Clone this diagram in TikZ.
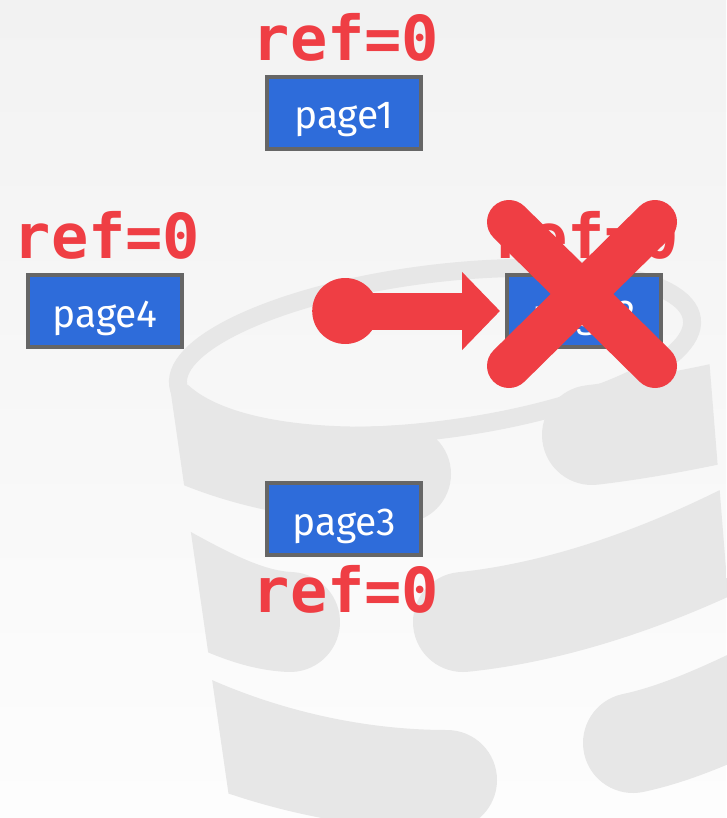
\documentclass[tikz,border=0pt]{standalone}
\usepackage{fontspec}
\setmainfont{Fira Sans}
\setmonofont{DejaVu Sans Mono}
\usetikzlibrary{positioning, arrows.meta, calc}
\definecolor{pgblue}{HTML}{2E6CDA}
\definecolor{pgedge}{HTML}{666666}
\definecolor{alertred}{HTML}{EF3E44}
\definecolor{logogray}{HTML}{E7E7E7}
\definecolor{bgtop}{HTML}{F2F2F2}
\definecolor{bgbot}{HTML}{FDFDFD}
\tikzset{
  page/.style={draw=pgedge, fill=pgblue, line width=4pt, minimum width=154pt, minimum height=72pt,
    inner sep=0pt, text=white, text height=32pt, text depth=0pt, font=\fontsize{39}{44}\selectfont},
  reflbl/.style={text=alertred, inner sep=0pt, font=\fontsize{62}{66}\selectfont\ttfamily\bfseries},
  srcdot/.style={circle, fill=alertred, minimum size=66pt, inner sep=0pt},
  pointer/.style={draw=alertred, line width=37pt, -{Triangle[length=38pt, width=76pt]}, shorten >=5pt},
  cross/.style={draw=alertred, line width=44pt, line cap=round},
  band/.style={draw=logogray, line width=100pt, line cap=round},
}

\begin{document}
\begin{tikzpicture}[x=1pt, y=-1pt]
  \shade[top color=bgtop, bottom color=bgbot] (0,0) rectangle (726,818);
  \useasboundingbox (0,0) rectangle (726,818);

  % database logo behind
  \draw[logogray, line width=18pt, rotate around={7.3:(435,352)}] (435,352) ellipse [x radius=259, y radius=78];
  \begin{scope}
    \clip (170,387) -- (232,818) -- (746,818) -- (706,320) -- cycle;
    \fill[logogray] (150,384) -- (150,470) .. controls (230,510) and (320,524) .. (402,523)
      arc[start angle=90, end angle=-90, radius=49] .. controls (340,430) and (230,425) .. (187,384) -- cycle;
    \draw[band] (592,435) .. controls (650,428) and (700,418) .. (780,400);
    \draw[band] (130,555) .. controls (200,595) and (245,620) .. (290,622);
    \draw[band] (463,622) .. controls (560,612) and (670,575) .. (780,515);
    \draw[band] (140,700) .. controls (220,745) and (330,780) .. (447,780);
    \draw[band] (633,743) .. controls (680,733) and (730,710) .. (790,680);
  \end{scope}

  % pages
  \node[page] (p1) at (344,113) {page1};
  \node[page, below=330pt of p1] (p3) {page3};
  \node[page] (p4) at (105,311) {page4};
  \node[page, right=321pt of p4] (p2) {page2};

  \node[reflbl, above=13pt of p1, xshift=2pt] (r1) {ref=0};
  \node[reflbl, above=13pt of p4, xshift=2pt] (r4) {ref=0};
  \node[reflbl, above=13pt of p2, xshift=2pt] (r2) {ref=0};
  \node[reflbl, below=8pt of p3, xshift=2pt] (r3) {ref=0};

  % pointer to the evicted page
  \node[srcdot, right=128pt of p4] (src) {};
  \draw[pointer] (src.center) -- (p2);

  \coordinate (xc) at ($(p2)+(-2,-17)$);
  \draw[cross] ($(xc)+(-73,-72)$) -- ($(xc)+(73,72)$);
  \draw[cross] ($(xc)+(73,-72)$) -- ($(xc)+(-73,72)$);
\end{tikzpicture}
\end{document}
